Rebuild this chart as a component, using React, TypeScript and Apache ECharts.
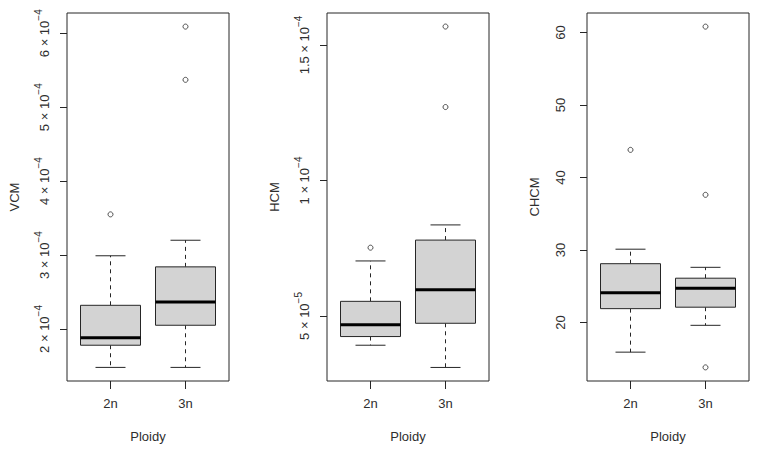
import React, { useEffect, useRef } from "react";
import * as echarts from "echarts";

// x positions of the two groups (R boxplot positions 1 and 2)
const categories = ["2n", "3n"];
const positions = [1, 2];

// [lower whisker, Q1, median, Q3, upper whisker]
const vcmBoxes = [
  [1.48e-4, 1.78e-4, 1.88e-4, 2.32e-4, 2.99e-4],
  [1.48e-4, 2.05e-4, 2.365e-4, 2.84e-4, 3.2e-4],
];
const vcmOutliers = [
  [1, 3.55e-4],
  [2, 6.09e-4],
  [2, 5.37e-4],
];
const vcmTicks = [2e-4, 3e-4, 4e-4, 5e-4, 6e-4];
const vcmTickLabels = [
  ["2 × 10", "−4"],
  ["3 × 10", "−4"],
  ["4 × 10", "−4"],
  ["5 × 10", "−4"],
  ["6 × 10", "−4"],
];

const hcmBoxes = [
  [3.92e-5, 4.24e-5, 4.68e-5, 5.54e-5, 7.03e-5],
  [3.1e-5, 4.73e-5, 5.97e-5, 7.8e-5, 8.36e-5],
];
const hcmOutliers = [
  [1, 7.52e-5],
  [2, 15.68e-5],
  [2, 12.71e-5],
];
const hcmTicks = [5e-5, 1e-4, 1.5e-4];
const hcmTickLabels = [
  ["5 × 10", "−5"],
  ["1 × 10", "−4"],
  ["1.5 × 10", "−4"],
];

const chcmBoxes = [
  [15.9, 21.9, 24.1, 28.1, 30.1],
  [19.6, 22.1, 24.7, 26.1, 27.6],
];
const chcmOutliers = [
  [1, 43.8],
  [2, 60.8],
  [2, 37.6],
  [2, 13.8],
];
const chcmTicks = [20, 30, 40, 50, 60];
const chcmTickLabels = [["20"], ["30"], ["40"], ["50"], ["60"]];

const panelNames = ["VCM", "HCM", "CHCM"];
const xName = "Ploidy";

const FONT = "'Liberation Sans', Arial, Helvetica, sans-serif";
const INK = "#262626";
const TEXT = "#2e2e2e";

export default function App() {
  const ref = useRef<HTMLDivElement>(null);

  useEffect(() => {
    if (!ref.current) return;
    const chart = echarts.init(ref.current, undefined, { renderer: "svg" });

    const panels = [
      { boxes: vcmBoxes, outliers: vcmOutliers, ticks: vcmTicks, labels: vcmTickLabels, min: 1.296e-4, max: 6.274e-4, left: 67, labelMargin: 16 },
      { boxes: hcmBoxes, outliers: hcmOutliers, ticks: hcmTicks, labels: hcmTickLabels, min: 2.6e-5, max: 16.18e-5, left: 327, labelMargin: 16 },
      { boxes: chcmBoxes, outliers: chcmOutliers, ticks: chcmTicks, labels: chcmTickLabels, min: 11.92, max: 62.68, left: 587, labelMargin: 20 },
    ];

    const grids = panels.map((p) => ({
      left: p.left,
      top: 13,
      width: 162,
      height: 368,
      show: true,
      borderColor: INK,
      borderWidth: 1,
      backgroundColor: "transparent",
    }));

    const xAxes = panels.map((p, i) => ({
      type: "value",
      gridIndex: i,
      min: 0.42,
      max: 2.58,
      name: xName,
      nameLocation: "middle",
      nameGap: 49,
      nameTextStyle: { fontFamily: FONT, fontSize: 13, color: TEXT },
      axisLine: { show: false },
      splitLine: { show: false },
      axisTick: { show: true, length: 8, customValues: positions, lineStyle: { color: INK, width: 1 } },
      axisLabel: {
        show: true,
        customValues: positions,
        margin: 16,
        fontFamily: FONT,
        fontSize: 13,
        color: TEXT,
        formatter: (v: number) => categories[positions.indexOf(Math.round(v))] ?? "",
      },
    }));

    const yAxes = panels.map((p, i) => ({
      type: "value",
      gridIndex: i,
      min: p.min,
      max: p.max,
      name: panelNames[i],
      nameLocation: "middle",
      nameRotate: 90,
      nameGap: 46,
      nameTextStyle: { fontFamily: FONT, fontSize: 13, color: TEXT },
      axisLine: { show: false },
      splitLine: { show: false },
      axisTick: { show: true, length: 7, customValues: p.ticks, lineStyle: { color: INK, width: 1 } },
      axisLabel: {
        show: true,
        customValues: p.ticks,
        rotate: 90,
        margin: p.labelMargin,
        color: TEXT,
        fontFamily: FONT,
        fontSize: 13,
        formatter: (v: number) => {
          let idx = 0;
          let best = Infinity;
          p.ticks.forEach((t, k) => {
            const d = Math.abs(t - v);
            if (d < best) {
              best = d;
              idx = k;
            }
          });
          const lab = p.labels[idx];
          return lab.length > 1 ? `{m|${lab[0]}}{s|${lab[1]}}` : `{n|${lab[0]}}`;
        },
        rich: {
          m: { fontFamily: FONT, fontSize: 13, color: TEXT, lineHeight: 18, verticalAlign: "bottom" },
          s: { fontFamily: FONT, fontSize: 10, color: TEXT, lineHeight: 10, verticalAlign: "top" },
          n: { fontFamily: FONT, fontSize: 13, color: TEXT, lineHeight: 14 },
        },
      },
    }));

    const boxSeries = panels.map((p, i) => ({
      type: "custom",
      xAxisIndex: i,
      yAxisIndex: i,
      data: p.boxes.map((b, k) => [positions[k], ...b]),
      renderItem: (params: any, api: any) => {
        const x = api.value(0);
        const low = api.coord([x, api.value(1)]);
        const q1 = api.coord([x, api.value(2)]);
        const med = api.coord([x, api.value(3)]);
        const q3 = api.coord([x, api.value(4)]);
        const high = api.coord([x, api.value(5)]);
        const bl = api.coord([x - 0.4, api.value(3)])[0];
        const br = api.coord([x + 0.4, api.value(3)])[0];
        const cl = api.coord([x - 0.2, api.value(3)])[0];
        const cr = api.coord([x + 0.2, api.value(3)])[0];
        const cx = low[0];
        const thin = { stroke: INK, lineWidth: 1 };
        const dashed = { stroke: INK, lineWidth: 1, lineDash: [4, 4] };
        return {
          type: "group",
          children: [
            { type: "line", shape: { x1: cx, y1: q3[1], x2: cx, y2: high[1] }, style: dashed },
            { type: "line", shape: { x1: cx, y1: q1[1], x2: cx, y2: low[1] }, style: dashed },
            { type: "line", shape: { x1: cl, y1: high[1], x2: cr, y2: high[1] }, style: thin },
            { type: "line", shape: { x1: cl, y1: low[1], x2: cr, y2: low[1] }, style: thin },
            {
              type: "rect",
              shape: { x: bl, y: q3[1], width: br - bl, height: q1[1] - q3[1] },
              style: { fill: "#D3D3D3", stroke: INK, lineWidth: 1 },
            },
            { type: "line", shape: { x1: bl, y1: med[1], x2: br, y2: med[1] }, style: { stroke: "#000", lineWidth: 3 } },
          ],
        };
      },
    }));

    const outlierSeries = panels.map((p, i) => ({
      type: "scatter",
      xAxisIndex: i,
      yAxisIndex: i,
      data: p.outliers,
      symbol: "circle",
      symbolSize: 5,
      itemStyle: { color: "#fff", borderColor: INK, borderWidth: 1 },
    }));

    chart.setOption({
      animation: false,
      backgroundColor: "#ffffff",
      textStyle: { fontFamily: FONT },
      grid: grids,
      xAxis: xAxes,
      yAxis: yAxes,
      series: [...boxSeries, ...outlierSeries],
    } as any);

    return () => chart.dispose();
  }, []);

  return (
    <div
      ref={ref}
      style={{ position: "fixed", left: 0, top: 0, width: 762, height: 449, background: "#fff" }}
    />
  );
}
